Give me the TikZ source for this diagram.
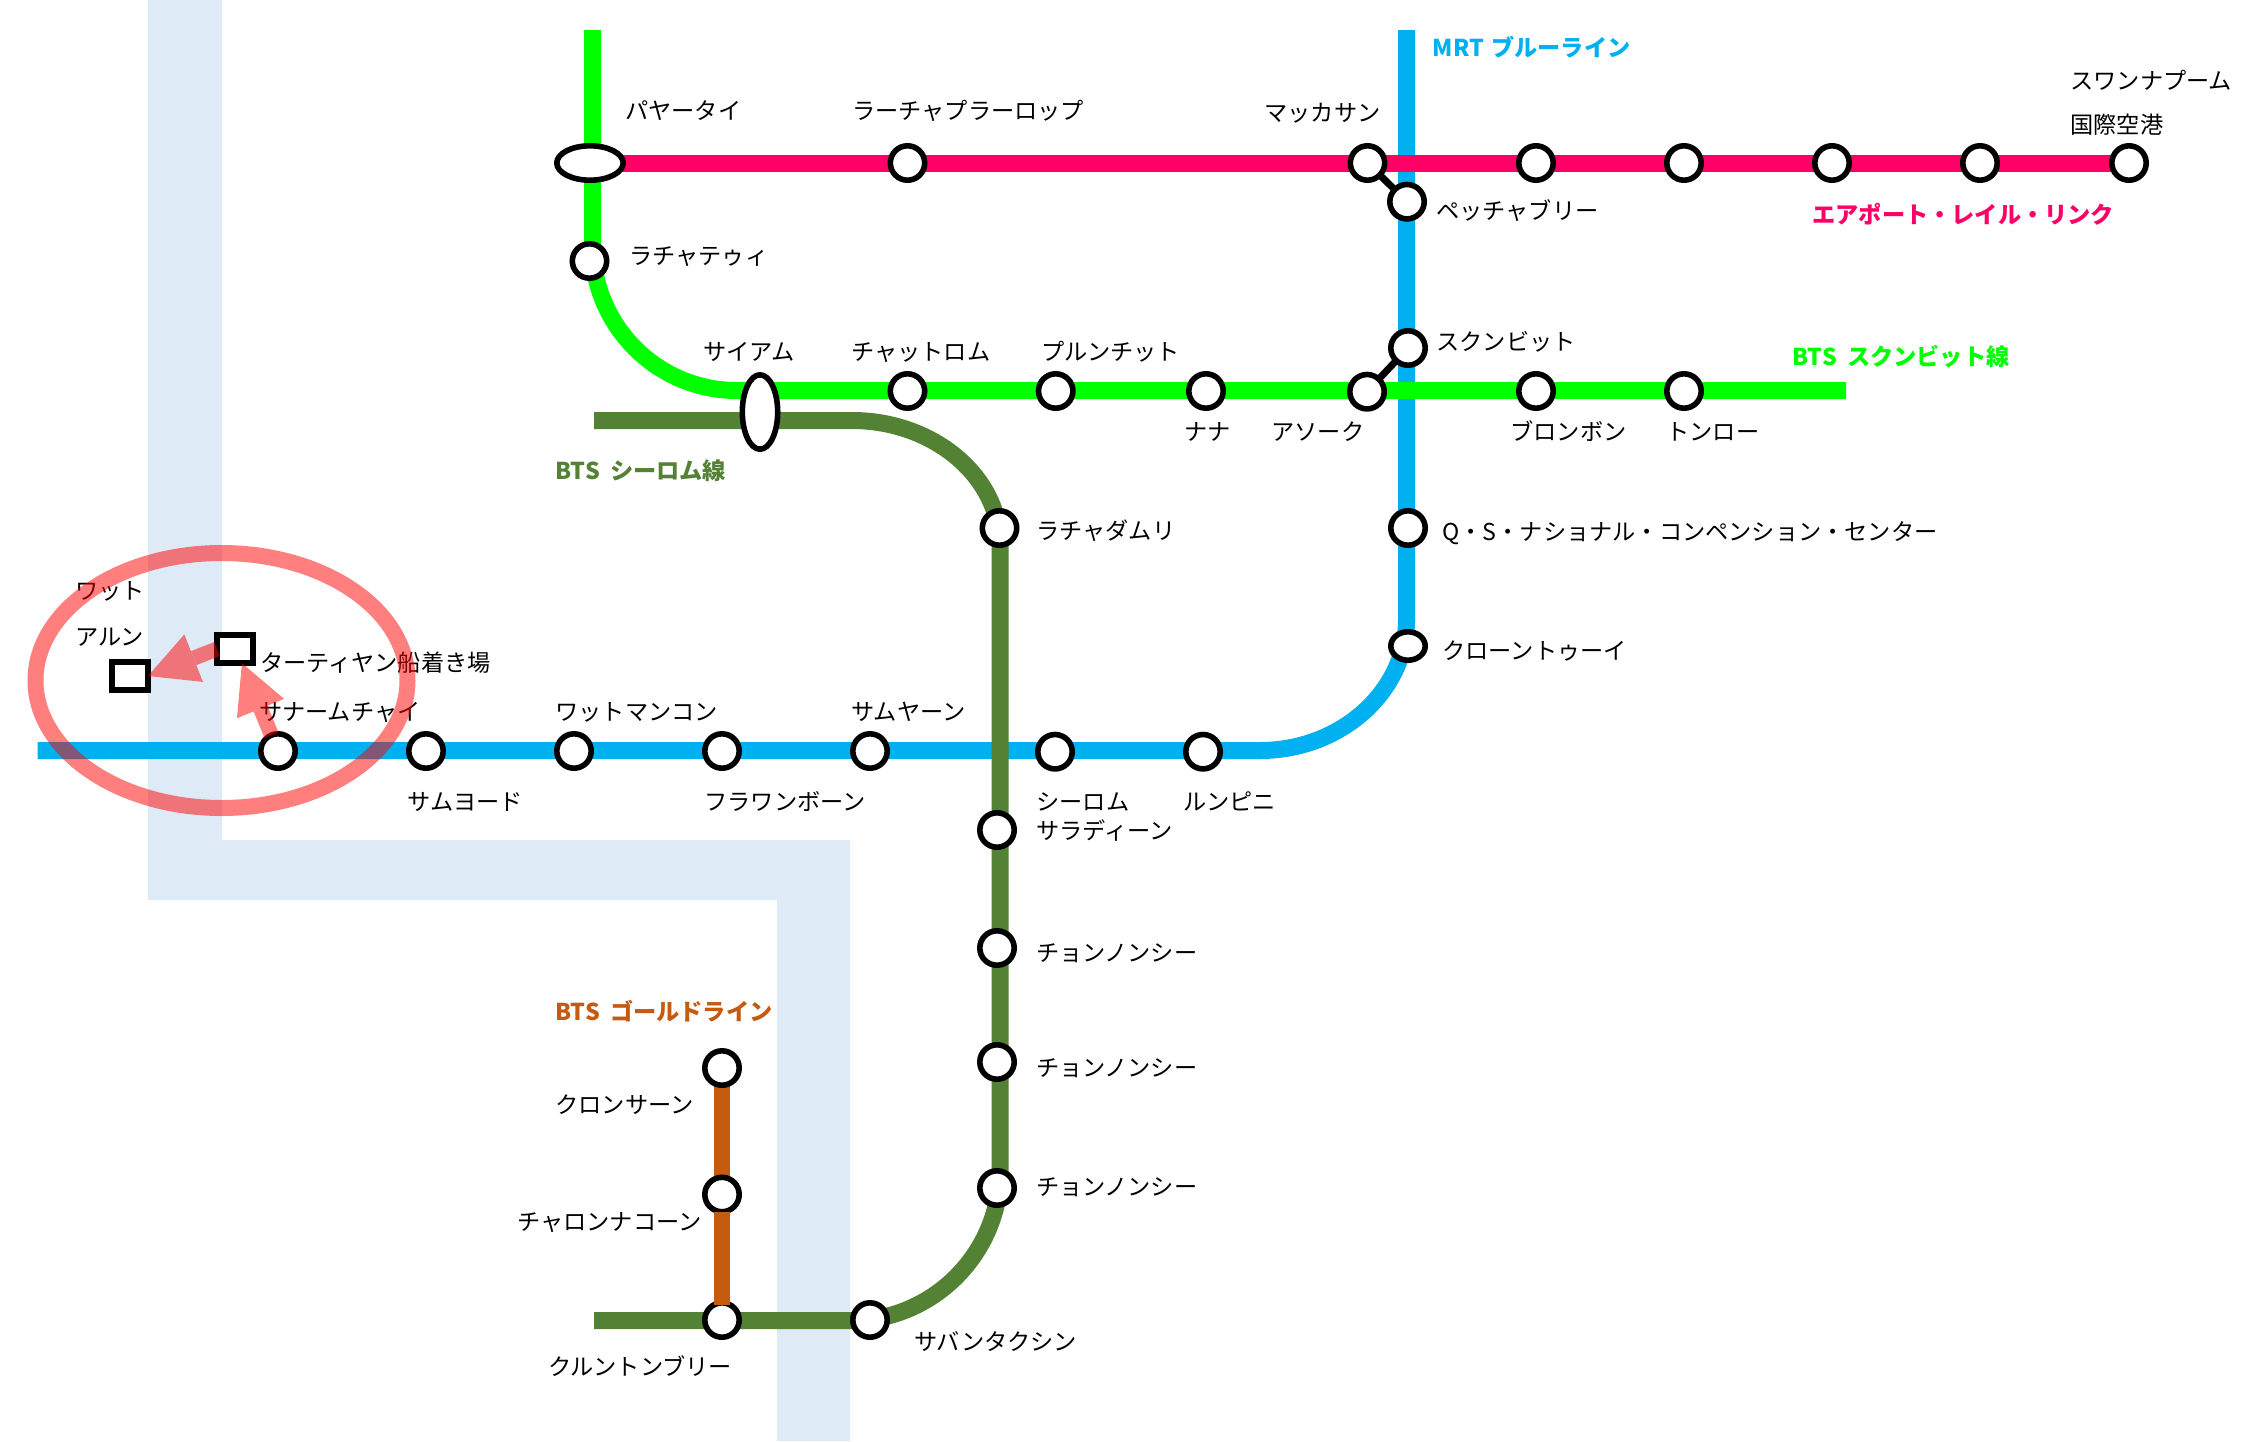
\documentclass[tikz,border=0pt]{standalone}
\usepackage{fontspec}
\setmainfont{Noto Sans CJK JP}
\usetikzlibrary{shapes.geometric,arrows.meta}
\definecolor{riverblue}{HTML}{DEEAF6}
\definecolor{mrtblue}{HTML}{00B0F0}
\definecolor{sukhumvitgreen}{HTML}{00FF00}
\definecolor{airportpink}{HTML}{FF0066}
\definecolor{silomgreen}{HTML}{548235}
\definecolor{goldbrown}{HTML}{C55A11}
\pgfdeclarelayer{lines}
\pgfsetlayers{lines,main}
\tikzset{
	station/.style={draw, circle, fill=white, line width=2.8pt, minimum size=17.2pt, inner sep=0pt, outer sep=0pt},
	wideoval/.style={draw, ellipse, fill=white, line width=2.8pt, inner sep=0pt, outer sep=0pt},
	pier/.style={draw, rectangle, fill=white, line width=2.8pt, minimum width=18pt, minimum height=14.2pt, inner sep=0pt, outer sep=0pt},
	lbl/.style={anchor=west, inner sep=0pt, xshift=-0.5pt, yshift=-1pt, text height=9.5pt, text depth=2.5pt, font=\fontsize{11.6pt}{14pt}\selectfont},
	linename/.style={lbl, font=\fontsize{11.6pt}{14pt}\selectfont\bfseries},
	railline/.style={line width=8.5pt},
	link/.style={line width=3.5pt},
	hotarrow/.style={draw=red, line width=7.5pt, -{Triangle[length=24.5pt,width=25.5pt,line width=0pt]}}
}
\begin{document}
\begin{tikzpicture}[x=0.5pt, y=-0.5pt]
	\useasboundingbox (0,0) rectangle (2258,1441);
	\coordinate (bluewest) at (37.5,750.5);
	\coordinate (bluebend) at (1260,750.5);
	\coordinate (bluerise) at (1406.5,620);
	\coordinate (bluetop) at (1406.5,30);
	\coordinate (greentop) at (592.5,30);
	\coordinate (greenbend) at (592.5,245.5);
	\coordinate (greenflat) at (737,390.5);
	\coordinate (greenend) at (1846,390.5);
	\coordinate (silomnorth) at (594,420.5);
	\coordinate (silombendA) at (852,420.5);
	\coordinate (silomriseA) at (1000,545);
	\coordinate (silomriseB) at (1000,1172);
	\coordinate (silombendB) at (852,1320.5);
	\coordinate (silomsouth) at (594,1320.5);
	\coordinate (goldend) at (722,1305);

	\node[wideoval, minimum width=33.2pt, minimum height=17.2pt] (phayathai) at (590,163) {};
	\node[station] (ratchaprarop) at (907.5,163) {};
	\node[station] (makkasan) at (1367.5,163) {};
	\node[station] (ramkhamhaeng) at (1536,163) {};
	\node[station] (huamak) at (1684,163) {};
	\node[station] (bantapchang) at (1832,163) {};
	\node[station] (latkrabang) at (1980,163) {};
	\node[station] (suvarnabhumi) at (2129,163) {};
	\node[station] (petchaburi) at (1407,201.7) {};
	\node[station] (sukhumvit) at (1408,348) {};
	\node[station] (qsncc) at (1408,528) {};
	\node[wideoval, minimum width=17.2pt, minimum height=14.2pt] (khlongtoei) at (1408,646) {};
	\node[station] (ratchathewi) at (589.5,261) {};
	\node[wideoval, minimum width=17.7pt, minimum height=37.2pt] (siam) at (760,412) {};
	\node[station] (chitlom) at (907.5,391) {};
	\node[station] (phloenchit) at (1055.7,391) {};
	\node[station] (nana) at (1206,391) {};
	\node[station] (asok) at (1367,391.7) {};
	\node[station] (phromphong) at (1536,391) {};
	\node[station] (thonglo) at (1684,391) {};
	\node[station] (ratchadamri) at (999.5,528) {};
	\node[station] (saladaeng) at (997,830) {};
	\node[station] (chongA) at (997,948) {};
	\node[station] (chongB) at (997,1062) {};
	\node[station] (chongC) at (997,1188) {};
	\node[station] (saphan) at (870,1320) {};
	\node[station] (krungthon) at (722,1320) {};
	\node[station] (charoen) at (722,1194.5) {};
	\node[station] (khlongsan) at (722,1068) {};
	\node[station] (sanam) at (278,751) {};
	\node[station] (samyot) at (426,751) {};
	\node[station] (mangkon) at (574,751) {};
	\node[station] (hualamphong) at (722,751) {};
	\node[station] (samyan) at (870,751) {};
	\node[station] (silom) at (1055,751.7) {};
	\node[station] (lumphini) at (1203,751.7) {};
	\node[pier] (thatien) at (235,649) {};
	\node[pier] (watarun) at (130,676) {};

	\begin{pgfonlayer}{lines}
		\fill[riverblue] (148,0) -- (222,0) -- (222,840) -- (850,840) -- (850,1441) -- (777,1441) -- (777,900) -- (148,900) -- cycle;
		\draw[railline, mrtblue] (bluewest) -- (bluebend) .. controls (1340.6,750.5) and (1406.5,691.5) .. (bluerise) -- (bluetop);
		\draw[railline, sukhumvitgreen] (greentop) -- (greenbend) .. controls (592.5,325.5) and (657,390.5) .. (greenflat) -- (greenend);
		\draw[railline, airportpink] (phayathai) -- (suvarnabhumi);
		\draw[railline, silomgreen] (silomnorth) -- (silombendA) .. controls (933,420.5) and (1000,476) .. (silomriseA) -- (silomriseB) .. controls (1000,1253) and (933,1320.5) .. (silombendB) -- (silomsouth);
		\draw[railline, goldbrown, line width=8pt] (khlongsan) -- (krungthon);
	\end{pgfonlayer}
	\draw[railline, goldbrown, line width=8pt] (charoen) -- (goldend);
	\draw[link] (makkasan) -- (petchaburi);
	\draw[link] (asok) -- (sukhumvit);

	\node[linename, text=mrtblue] (mrtname) at (1433.5,47) {MRT\hspace{1pt} ブルーライン};
	\node[linename, text=airportpink] (airportname) at (1813,214) {エアポート・レイル・リンク};
	\node[linename, text=sukhumvitgreen] (sukhumvitname) at (1793,356) {BTS\hspace{2.5pt} スクンビット線};
	\node[linename, text=silomgreen] (silomname) at (556,470) {BTS\hspace{2.5pt} シーロム線};
	\node[linename, text=goldbrown] (goldname) at (556,1011.7) {BTS\hspace{2.5pt} ゴールドライン};

	\node[lbl] (lphayathai) at (625.8,110.7) {パヤータイ};
	\node[lbl] (lratchaprarop) at (853,110.7) {ラーチャプラーロップ};
	\node[lbl] (lmakkasan) at (1265,112.7) {マッカサン};
	\node[lbl] (lsuvarnaA) at (2071,80) {スワンナプーム};
	\node[lbl] (lsuvarnaB) at (2071,124) {国際空港};
	\node[lbl] (lpetchaburi) at (1437,210.7) {ペッチャブリー};
	\node[lbl] (lratchathewi) at (630,255) {ラチャテゥィ};
	\node[lbl] (lsiam) at (704,351) {サイアム};
	\node[lbl] (lchitlom) at (852,351) {チャットロム};
	\node[lbl] (lphloenchit) at (1042,351) {プルンチット};
	\node[lbl] (lsukhumvit) at (1437,341.7) {スクンビット};
	\node[lbl] (lnana) at (1185,431.7) {ナナ};
	\node[lbl] (lasok) at (1272,431.7) {アソーク};
	\node[lbl] (lphromphong) at (1511,431.7) {ブロンボン};
	\node[lbl] (lthonglo) at (1667,431.7) {トンロー};
	\node[lbl] (lratchadamri) at (1037,530.7) {ラチャダムリ};
	\node[lbl] (lqsncc) at (1443,531.7) {Q・S・ナショナル・コンペンション・センター};
	\node[lbl] (lkhlongtoei) at (1443,650.7) {クローントゥーイ};
	\node[lbl] (lwat) at (75.7,590.7) {ワット};
	\node[lbl] (larun) at (75.7,636.7) {アルン};
	\node[lbl] (lthatien) at (260.7,662.7) {ターティヤン船着き場};
	\node[lbl] (lsanam) at (259.6,711) {サナームチャイ};
	\node[lbl] (lmangkon) at (556,711.7) {ワットマンコン};
	\node[lbl] (lsamyan) at (851.7,711.7) {サムヤーン};
	\node[lbl] (lsamyot) at (408,801) {サムヨード};
	\node[lbl] (lhualamphong) at (705,801.7) {フラワンボーン};
	\node[lbl] (lsilom) at (1037,801.7) {シーロム};
	\node[lbl] (lsaladaeng) at (1037,830) {サラディーン};
	\node[lbl] (llumphini) at (1184,801.7) {ルンピニ};
	\node[lbl] (lchongA) at (1036.7,952.7) {チョンノンシー};
	\node[lbl] (lchongB) at (1036.7,1067) {チョンノンシー};
	\node[lbl] (lchongC) at (1036.7,1186.7) {チョンノンシー};
	\node[lbl] (lkhlongsan) at (556,1104) {クロンサーン};
	\node[lbl] (lcharoen) at (518,1221.7) {チャロンナコーン};
	\node[lbl] (lkrungthon) at (549,1366.7) {クルントンブリー};
	\node[lbl] (lsaphan) at (915,1341.7) {サバンタクシン};

	\node[draw=red, draw opacity=0.5, ellipse, line width=8pt, minimum width=186pt, minimum height=127.5pt, inner sep=0pt] (ring) at (221.5,680.5) {};
	\begin{scope}[transparency group, opacity=0.5]
		\draw[hotarrow] (sanam) -- (thatien.-64);
		\draw[hotarrow] (thatien.west) -- (watarun.east);
	\end{scope}
\end{tikzpicture}
\end{document}
